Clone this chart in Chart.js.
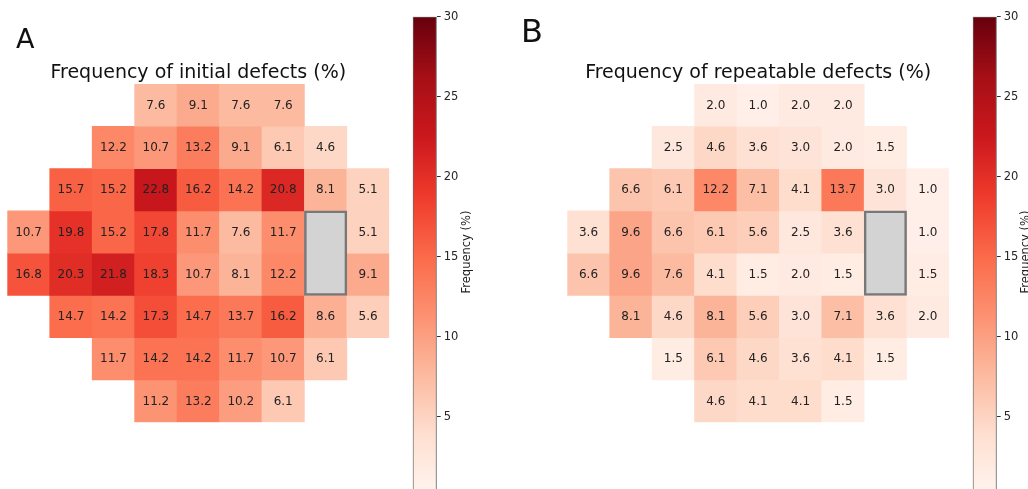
<!DOCTYPE html>
<html>
<head>
<meta charset="utf-8">
<script src="https://cdn.jsdelivr.net/npm/chart.js@4.4.1/dist/chart.umd.min.js"></script>
<style>
  html, body { margin: 0; padding: 0; background: #fff; width: 1028px; height: 489px; overflow: hidden; }
  canvas { position: absolute; top: 0; }
</style>
</head>
<body>
<canvas id="heatA" width="400" height="489" style="left:0"></canvas>
<canvas id="cbA" width="100" height="520" style="left:400px"></canvas>
<canvas id="heatB" width="450" height="489" style="left:514px"></canvas>
<canvas id="cbB" width="64" height="520" style="left:964px"></canvas>
<script>
// --- Données ---
const columns = ['c0', 'c1', 'c2', 'c3', 'c4', 'c5', 'c6', 'c7', 'c8'];
const rowFirstCol = [3, 2, 1, 0, 0, 1, 2, 3]; // première colonne occupée par ligne

const initialRows = [
    [7.6, 9.1, 7.6, 7.6],
    [12.2, 10.7, 13.2, 9.1, 6.1, 4.6],
    [15.7, 15.2, 22.8, 16.2, 14.2, 20.8, 8.1, 5.1],
    [10.7, 19.8, 15.2, 17.8, 11.7, 7.6, 11.7, null, 5.1],
    [16.8, 20.3, 21.8, 18.3, 10.7, 8.1, 12.2, null, 9.1],
    [14.7, 14.2, 17.3, 14.7, 13.7, 16.2, 8.6, 5.6],
    [11.7, 14.2, 14.2, 11.7, 10.7, 6.1],
    [11.2, 13.2, 10.2, 6.1]
];

const repeatableRows = [
    [2.0, 1.0, 2.0, 2.0],
    [2.5, 4.6, 3.6, 3.0, 2.0, 1.5],
    [6.6, 6.1, 12.2, 7.1, 4.1, 13.7, 3.0, 1.0],
    [3.6, 9.6, 6.6, 6.1, 5.6, 2.5, 3.6, null, 1.0],
    [6.6, 9.6, 7.6, 4.1, 1.5, 2.0, 1.5, null, 1.5],
    [8.1, 4.6, 8.1, 5.6, 3.0, 7.1, 3.6, 2.0],
    [1.5, 6.1, 4.6, 3.6, 4.1, 1.5],
    [4.6, 4.1, 4.1, 1.5]
];

const blindSpotCol = 7;
const blindSpotRows = [3, 5];
const colorbarTicks = [5, 10, 15, 20, 25, 30];
const vMin = 0, vMax = 30;

// --- Palette "Reds" ---
const redsStops = ['#fff5f0', '#fee0d2', '#fcbba1', '#fc9272', '#fb6a4a', '#ef3b2c', '#cb181d', '#a50f15', '#67000d'];

function hexToRgb(h) {
    return [parseInt(h.slice(1, 3), 16), parseInt(h.slice(3, 5), 16), parseInt(h.slice(5, 7), 16)];
}

function reds(t) {
    t = Math.max(0, Math.min(1, t));
    const p = t * (redsStops.length - 1);
    const i = Math.min(Math.floor(p), redsStops.length - 2);
    const f = p - i;
    const a = hexToRgb(redsStops[i]), b = hexToRgb(redsStops[i + 1]);
    const c = a.map((v, k) => Math.round(v + (b[k] - v) * f));
    return `rgb(${c[0]}, ${c[1]}, ${c[2]})`;
}

const FONT = '"DejaVu Sans", Verdana, sans-serif';

// --- Heatmap ---
function heatmapConfig(rows, title, letter, letterFont, letterX, letterY, padding) {
    const datasets = rows.map((vals, r) => {
        const full = columns.map((_, c) => {
            const k = c - rowFirstCol[r];
            return (k >= 0 && k < vals.length) ? vals[k] : null;
        });
        return {
            label: 'row ' + r,
            data: full.map(v => v == null ? null : [r, r + 1]),
            values: full,
            backgroundColor: full.map(v => v == null ? 'rgba(0,0,0,0)' : reds((v - vMin) / (vMax - vMin))),
            borderWidth: 0,
            grouped: false,
            barPercentage: 1,
            categoryPercentage: 1
        };
    });

    datasets.push({
        label: 'blind spot',
        isBlindSpot: true,
        data: columns.map((_, c) => c === blindSpotCol ? blindSpotRows : null),
        backgroundColor: '#d3d3d3',
        borderColor: '#787878',
        borderWidth: 2.5,
        borderSkipped: false,
        grouped: false,
        barPercentage: 1,
        categoryPercentage: 1,
        order: -1
    });

    const textPlugin = {
        id: 'cellText',
        afterDatasetsDraw(chart) {
            const ctx = chart.ctx;
            ctx.save();
            ctx.font = `12px ${FONT}`;
            ctx.fillStyle = '#222';
            ctx.textAlign = 'center';
            ctx.textBaseline = 'middle';
            chart.data.datasets.forEach((ds, i) => {
                if (ds.isBlindSpot) return;
                chart.getDatasetMeta(i).data.forEach((el, j) => {
                    const v = ds.values[j];
                    if (v == null) return;
                    ctx.fillText(v.toFixed(1), el.x, (el.y + el.base) / 2 + 0.5);
                });
            });
            ctx.restore();
        },
        afterDraw(chart) {
            const ctx = chart.ctx;
            const area = chart.chartArea;
            ctx.save();
            ctx.fillStyle = '#111';
            ctx.textBaseline = 'alphabetic';
            ctx.textAlign = 'center';
            ctx.font = `19px ${FONT}`;
            ctx.fillText(title, (area.left + area.right) / 2, 77.5);
            ctx.textAlign = 'left';
            ctx.font = letterFont;
            ctx.fillText(letter, letterX, letterY);
            ctx.restore();
        }
    };

    return {
        type: 'bar',
        data: { labels: columns, datasets },
        options: {
            responsive: false,
            animation: false,
            layout: { padding },
            plugins: { legend: { display: false }, tooltip: { enabled: false } },
            scales: {
                x: { display: false },
                y: { display: false, min: 0, max: rowFirstCol.length, reverse: true }
            }
        },
        plugins: [textPlugin]
    };
}

// --- Barre de couleur ---
function colorbarConfig(padLeft, scaleWidth, labelX) {
    const labelPlugin = {
        id: 'cbLabel',
        afterDraw(chart) {
            const ctx = chart.ctx;
            ctx.save();
            ctx.translate(labelX, 252);
            ctx.rotate(-Math.PI / 2);
            ctx.font = `11.5px ${FONT}`;
            ctx.fillStyle = '#222';
            ctx.textAlign = 'center';
            ctx.textBaseline = 'middle';
            ctx.fillText('Frequency (%)', 0, 0);
            ctx.restore();
        }
    };

    return {
        type: 'bar',
        data: {
            labels: ['cb'],
            datasets: [{
                data: [[vMin, vMax]],
                backgroundColor: (c) => {
                    const chart = c.chart;
                    const ys = chart.scales.y;
                    if (!chart.chartArea || !ys) return '#fff';
                    const g = chart.ctx.createLinearGradient(0, ys.getPixelForValue(vMin), 0, ys.getPixelForValue(vMax));
                    redsStops.forEach((s, i) => g.addColorStop(i / (redsStops.length - 1), s));
                    return g;
                },
                borderColor: '#6a6a6a',
                borderWidth: 1.2,
                borderSkipped: false,
                barPercentage: 1,
                categoryPercentage: 1
            }]
        },
        options: {
            responsive: false,
            animation: false,
            layout: { padding: { left: padLeft, right: 0, top: 16.7, bottom: 23.3 } },
            plugins: { legend: { display: false }, tooltip: { enabled: false } },
            scales: {
                x: { display: false },
                y: {
                    position: 'right',
                    min: vMin,
                    max: vMax,
                    afterBuildTicks: s => { s.ticks = colorbarTicks.map(v => ({ value: v })); },
                    afterFit: s => { s.width = scaleWidth; },
                    ticks: { font: { family: FONT, size: 11.5 }, color: '#262626', padding: 3 },
                    grid: { drawOnChartArea: false, drawTicks: true, tickLength: 4, color: '#333', tickWidth: 1 },
                    border: { display: false }
                }
            }
        },
        plugins: [labelPlugin]
    };
}

new Chart(document.getElementById('heatA'), heatmapConfig(
    initialRows, 'Frequency of initial defects (%)', 'A', `27px ${FONT}`, 16, 48.3,
    { left: 7.3, right: 10.7, top: 84, bottom: 66.7 }));

new Chart(document.getElementById('cbA'), colorbarConfig(12.7, 63.3, 67));

new Chart(document.getElementById('heatB'), heatmapConfig(
    repeatableRows, 'Frequency of repeatable defects (%)', 'B', `32px ${FONT}`, 7, 41.7,
    { left: 53.3, right: 15, top: 84, bottom: 66.7 }));

new Chart(document.getElementById('cbB'), colorbarConfig(8.7, 31.3, 62));
</script>
</body>
</html>
